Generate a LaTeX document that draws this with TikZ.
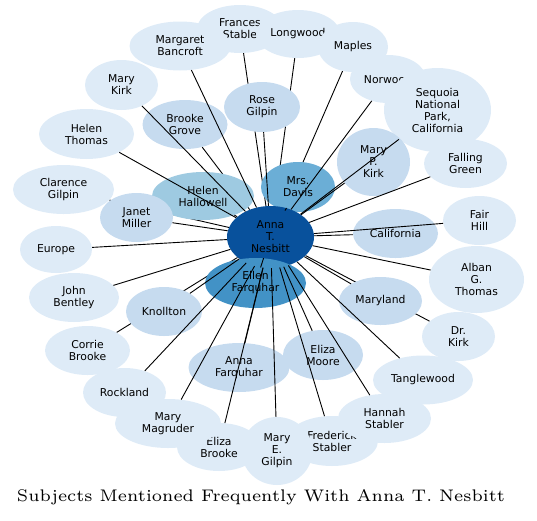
\documentclass[tikz,border=0pt]{standalone}
\usepackage{fontspec}
\usepackage{graphicx}
\newfontfamily\nodefont{DejaVu Sans}
\usetikzlibrary{shapes.geometric}
\pgfdeclarelayer{background}
\pgfdeclarelayer{foreground}
\pgfsetlayers{background,main,foreground}
\definecolor{outerc}{HTML}{DEEBF7}
\definecolor{innerc}{HTML}{C6DBEF}
\definecolor{hallc}{HTML}{9ECAE1}
\definecolor{davisc}{HTML}{6BAED6}
\definecolor{ellenc}{HTML}{4292C6}
\definecolor{annac}{HTML}{08519C}
\begin{document}
\begin{tikzpicture}[x=1pt,y=-1pt,
  bub/.style={ellipse, inner sep=0pt, align=center, text=black,
    font=\nodefont\fontsize{10.8}{12}\selectfont},
  outer/.style={bub, fill=outerc},
  inner/.style={bub, fill=innerc},
  sz/.style 2 args={minimum width=#1, minimum height=#2},
  link/.style={draw=black, line width=0.9pt}]
\useasboundingbox (0,0) rectangle (537,520);
% outer ring
\node[outer, sz={73}{50}] (marykirk) at (121.5,85) {Mary\\Kirk};
\node[outer, sz={95}{50}] (hthomas) at (86.5,134) {Helen\\Thomas};
\node[outer, sz={101}{49}] (clarence) at (63.5,189.5) {Clarence\\Gilpin};
\node[outer, sz={72}{47}] (europe) at (56,249.5) {Europe};
\node[outer, sz={90}{49}] (bentley) at (74,297.5) {John\\Bentley};
\node[outer, sz={85}{49}] (corrie) at (87.5,350.5) {Corrie\\Brooke};
\node[outer, sz={83}{49}] (rockland) at (124.5,392.5) {Rockland};
\node[outer, sz={84}{48}] (elizabrooke) at (219,447) {Eliza\\Brooke};
\node[outer, sz={106}{49}] (magruder) at (168,423.5) {Mary\\Magruder};
\node[outer, sz={92}{50}] (frederick) at (332,441) {Frederick\\Stabler};
\node[outer, sz={71}{68}] (megilpin) at (277,451) {Mary\\E.\\Gilpin};
\node[outer, sz={93}{49}] (hannah) at (384.5,418.5) {Hannah\\Stabler};
\node[outer, sz={100}{49}] (tangle) at (423,380) {Tanglewood};
\node[outer, sz={73}{49}] (drkirk) at (458.5,336.5) {Dr.\\Kirk};
\node[outer, sz={95}{67}] (alban) at (476.5,279.5) {Alban\\G.\\Thomas};
\node[outer, sz={73}{49}] (fairhill) at (479.5,220.5) {Fair\\Hill};
\node[outer, sz={83}{49}] (falling) at (465.5,163.5) {Falling\\Green};
\node[outer, sz={86}{48}] (frances) at (240,29) {Frances\\Stable};
\node[outer, sz={101}{49}] (margaret) at (180,46) {Margaret\\Bancroft};
\node[outer, sz={84}{48}] (longwood) at (298,34) {Longwood};
\node[outer, sz={70}{50}] (maples) at (353,47) {Maples};
\node[outer, sz={76}{48}] (norwood) at (388,79) {Norwood};
\node[outer, sz={107}{84}] (sequoia) at (437.5,110) {Sequoia\\National\\Park,\\California};
% inner ring
\node[bub, fill=hallc, sz={102}{48}] (hallowell) at (203,196) {Helen\\Hallowell};
\node[inner, sz={73}{49}] (janet) at (136.5,217.5) {Janet\\Miller};
\node[inner, sz={85}{49}] (brookegrove) at (185,124.5) {Brooke\\Grove};
\node[inner, sz={76}{50}] (rose) at (262,107) {Rose\\Gilpin};
\node[inner, sz={73}{68}] (mpkirk) at (373.5,162) {Mary\\P.\\Kirk};
\node[inner, sz={85}{49}] (california) at (395.5,233.5) {California};
\node[inner, sz={83}{48}] (maryland) at (380.5,301) {Maryland};
\node[inner, sz={80}{50}] (elizamoore) at (323,355) {Eliza\\Moore};
\node[inner, sz={101}{49}] (annafarq) at (239,367.5) {Anna\\Farquhar};
\node[inner, sz={76}{49}] (knollton) at (164,311.5) {Knollton};
\node[bub, fill=davisc, sz={74}{50}] (davis) at (298,187) {Mrs.\\Davis};
\node[bub, fill=annac, sz={87}{62}] (anna) at (270.5,237) {Anna\\T.\\Nesbitt};
\node[bub, fill=ellenc, sz={101}{50}] (ellen) at (255.5,283) {Ellen\\Farquhar};
% title
\node (title) at (261,497) {\resizebox{488pt}{!}{\fontsize{6}{7}\selectfont Subjects Mentioned Frequently With Anna T. Nesbitt}};
% edges hidden under other nodes
\begin{pgfonlayer}{background}
\foreach \t in {frances,longwood,maples,brookegrove,clarence,corrie,drkirk}
  \draw[link] (anna) -- (\t);
\end{pgfonlayer}
% edges drawn over nodes
\begin{pgfonlayer}{foreground}
\foreach \t in {marykirk,hthomas,europe,bentley,rockland,elizabrooke,magruder,
  frederick,megilpin,hannah,tangle,alban,fairhill,falling,margaret,norwood,
  sequoia,hallowell,janet,rose,mpkirk,california,maryland,elizamoore,annafarq,
  knollton,davis,ellen}
  \draw[link] (anna) -- (\t);
\end{pgfonlayer}
\end{tikzpicture}
\end{document}
